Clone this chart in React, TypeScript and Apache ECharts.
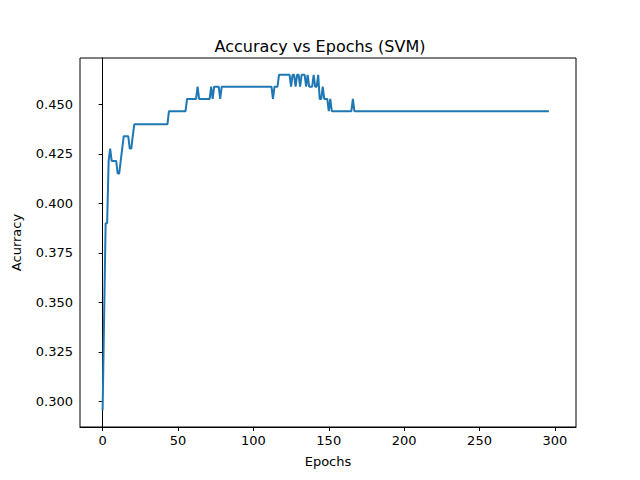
import React, { useEffect, useRef } from 'react';
import * as echarts from 'echarts';

// accuracy levels seen in the plot, as [value, number of epochs]
const runs: [number, number][] = [
  [0.2955, 1], [0.343, 1], [0.39, 2], [0.4215, 1], [0.4277, 1], [0.4215, 4], [0.4151, 2],
  [0.4215, 1], [0.4277, 1], [0.434, 4], [0.4277, 2], [0.434, 1], [0.44, 23],
  [0.4466, 12], [0.4528, 7], [0.459, 1], [0.4528, 8], [0.459, 1], [0.4528, 1],
  [0.459, 4], [0.4528, 1], [0.459, 34], [0.4528, 1], [0.459, 3], [0.465, 8],
  [0.459, 1], [0.465, 2], [0.459, 1], [0.465, 2], [0.459, 1], [0.465, 3], [0.459, 1],
  [0.465, 1], [0.459, 3], [0.465, 1], [0.459, 2], [0.465, 1], [0.4528, 2], [0.459, 1],
  [0.4528, 3], [0.4466, 1], [0.4528, 1], [0.4466, 14], [0.4528, 1], [0.4466, 130],
];
const xTicks = [0, 50, 100, 150, 200, 250, 300];
const yTicks = [0.3, 0.325, 0.35, 0.375, 0.4, 0.425, 0.45];

const accuracy: number[][] = [];
runs.forEach(([v, n]) => {
  for (let i = 0; i < n; i++) accuracy.push([accuracy.length, v]);
});

const font = 'DejaVu Sans';

export default function App() {
  const ref = useRef<HTMLDivElement>(null);

  useEffect(() => {
    if (!ref.current) return;
    const chart = echarts.init(ref.current, null, { renderer: 'svg' });
    chart.setOption({
      animation: false,
      backgroundColor: '#fff',
      title: {
        text: 'Accuracy vs Epochs (SVM)',
        left: 'center',
        top: 33,
        textStyle: { fontFamily: font, fontSize: 16, fontWeight: 'normal', color: '#000' },
      },
      grid: {
        left: 80, right: 64, top: 58, bottom: 53,
        show: true, borderColor: '#000', borderWidth: 1,
      },
      xAxis: {
        type: 'value',
        min: -15,
        max: 314,
        name: 'Epochs',
        nameLocation: 'middle',
        nameGap: 28,
        nameTextStyle: { fontFamily: font, fontSize: 13, color: '#000' },
        axisLine: { show: true, lineStyle: { color: '#000' } },
        axisTick: { show: true, length: 4, customValues: xTicks, lineStyle: { color: '#000' } },
        axisLabel: { customValues: xTicks, fontFamily: font, fontSize: 13, color: '#000', margin: 7 },
        splitLine: { show: false },
      },
      yAxis: {
        type: 'value',
        min: 0.287,
        max: 0.4735,
        name: 'Acurracy',
        nameLocation: 'middle',
        nameGap: 57,
        nameTextStyle: { fontFamily: font, fontSize: 13, color: '#000' },
        axisLine: { show: true, lineStyle: { color: '#000' } },
        axisTick: { show: true, length: 4, customValues: yTicks, lineStyle: { color: '#000' } },
        axisLabel: {
          customValues: yTicks, fontFamily: font, fontSize: 13, color: '#000', margin: 7,
          formatter: (v: number) => v.toFixed(3),
        },
        splitLine: { show: false },
      },
      series: [
        {
          type: 'line',
          data: accuracy,
          showSymbol: false,
          lineStyle: { color: '#1f77b4', width: 2 },
        },
      ],
    });
    return () => chart.dispose();
  }, []);

  return <div ref={ref} style={{ width: 640, height: 480, margin: -8 }} />;
}
